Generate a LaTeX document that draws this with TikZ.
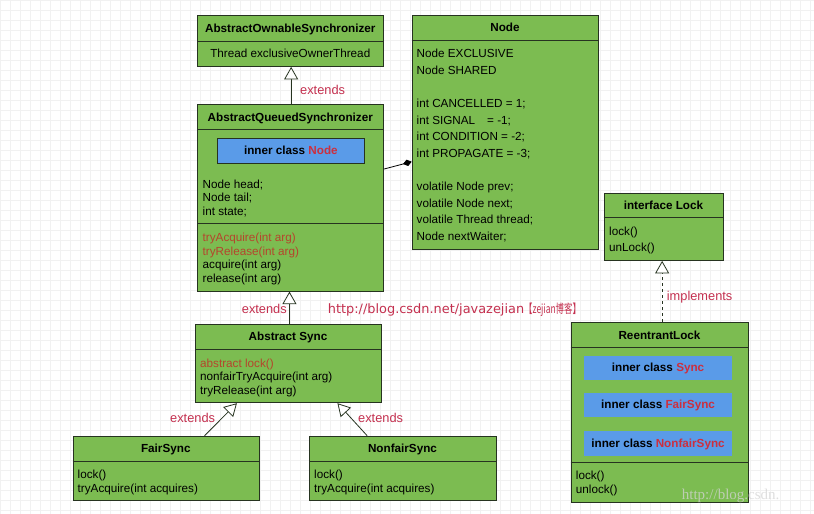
\documentclass[tikz,border=0pt]{standalone}
\usepackage{fontspec}
\setmainfont{Liberation Sans}
\newfontfamily\cjk{Noto Sans CJK SC}
\newfontfamily\urlfont{DejaVu Sans}
\newfontfamily\wmfont{Liberation Serif}
\usetikzlibrary{arrows.meta,calc}
\definecolor{boxgreen}{HTML}{7CBC51}
\definecolor{boxblue}{HTML}{5A9BE8}
\definecolor{edgedark}{HTML}{263320}
\definecolor{lblred}{HTML}{C4304F}
\definecolor{methred}{HTML}{B5452C}
\definecolor{namered}{HTML}{CC2F3F}
\definecolor{gridgray}{HTML}{F1F1F1}
\definecolor{wmgray}{HTML}{D4D4D4}
\tikzset{
  cls/.style={draw=edgedark, line width=0.9pt, fill=boxgreen, inner sep=0pt, anchor=north west},
  inner/.style={fill=boxblue, inner sep=0pt, anchor=north west},
  innerb/.style={inner, draw=edgedark, line width=0.8pt},
  txt/.style={inner sep=0pt, anchor=west, text height=8.5pt, text depth=2.5pt, font=\fontsize{11.7}{14}\selectfont},
  ttl/.style={inner sep=0pt, anchor=center, text height=8.5pt, text depth=2.5pt, font=\fontsize{11.7}{14}\selectfont\bfseries},
  lbl/.style={txt, text=lblred, font=\fontsize{12.8}{14}\selectfont},
  divider/.style={draw=edgedark, line width=0.9pt},
  ext/.style={draw=edgedark, line width=0.8pt, -{Triangle[open, length=12.5pt, width=14pt, fill=white]}},
  impl/.style={ext, dashed},
  comp/.style={draw=black, line width=0.8pt, -{Diamond[length=9pt, width=6.5pt]}}
}
\begin{document}
\begin{tikzpicture}[x=1pt, y=-1pt]
\useasboundingbox (0,0) rectangle (814,514);
\fill[white] (0,0) rectangle (814,514);
\draw[gridgray, line width=0.3pt, step=10pt] (0,0) grid (814,514);

% AbstractOwnableSynchronizer
\node[cls, minimum width=186pt, minimum height=51pt] (aos) at (197.3,15) {};
\draw[divider] (197.3,41) -- (383.3,41);
\node[ttl] (aos-t) at (290.3,29) {AbstractOwnableSynchronizer};
\node[txt, anchor=center] (aos-f) at (290.3,54.5) {Thread exclusiveOwnerThread};

% AbstractQueuedSynchronizer
\node[cls, minimum width=186pt, minimum height=186.4pt] (aqs) at (197.3,104.3) {};
\draw[divider] (197.3,129.8) -- (383.3,129.8);
\draw[divider] (197.3,223.5) -- (383.3,223.5);
\node[ttl] (aqs-t) at (290.3,118) {AbstractQueuedSynchronizer};
\node[innerb, minimum width=147.6pt, minimum height=25.6pt] (aqs-in) at (216.7,137.7) {};
\node[ttl] (aqs-in-t) at ($(aqs-in.center)+(0,0.8)$) {inner class \textcolor{namered}{Node}};
\node[txt] (aqs-f1) at (202.5,185) {Node head;};
\node[txt] (aqs-f2) at (202.5,198.5) {Node tail;};
\node[txt] (aqs-f3) at (202.5,212) {int state;};
\node[txt, text=methred] (aqs-m1) at (202.5,238.3) {tryAcquire(int arg)};
\node[txt, text=methred] (aqs-m2) at (202.5,252) {tryRelease(int arg)};
\node[txt] (aqs-m3) at (202.5,265.5) {acquire(int arg)};
\node[txt] (aqs-m4) at (202.5,279) {release(int arg)};

% Node
\node[cls, minimum width=186.6pt, minimum height=234pt] (nd) at (411.7,14.7) {};
\draw[divider] (411.7,40) -- (598.3,40);
\node[ttl] (nd-t) at (505,28.3) {Node};
\node[txt] (nd-1) at (416.5,54.2) {Node EXCLUSIVE};
\node[txt] (nd-2) at (416.5,71.2) {Node SHARED};
\node[txt] (nd-3) at (416.5,104.5) {int CANCELLED = 1;};
\node[txt] (nd-4) at (416.5,121.2) {int SIGNAL\hspace{12pt}= -1;};
\node[txt] (nd-5) at (416.5,137.9) {int CONDITION = -2;};
\node[txt] (nd-6) at (416.5,154.5) {int PROPAGATE = -3;};
\node[txt] (nd-7) at (416.5,187.5) {volatile Node prev;};
\node[txt] (nd-8) at (416.5,204.2) {volatile Node next;};
\node[txt] (nd-9) at (416.5,220.9) {volatile Thread thread;};
\node[txt] (nd-10) at (416.5,237.7) {Node nextWaiter;};

% Abstract Sync
\node[cls, minimum width=186pt, minimum height=78.3pt] (as) at (195,324) {};
\draw[divider] (195,349.5) -- (381,349.5);
\node[ttl] (as-t) at (288,337.7) {Abstract Sync};
\node[txt, text=methred] (as-1) at (200,364.3) {abstract lock()};
\node[txt] (as-2) at (200,377.8) {nonfairTryAcquire(int arg)};
\node[txt] (as-3) at (200,391.2) {tryRelease(int arg)};

% FairSync
\node[cls, minimum width=186.3pt, minimum height=64.3pt] (fs) at (72.7,435.7) {};
\draw[divider] (72.7,461.7) -- (259,461.7);
\node[ttl] (fs-t) at (165.8,449.5) {FairSync};
\node[txt] (fs-1) at (77.5,475.1) {lock()};
\node[txt] (fs-2) at (77.5,489.8) {tryAcquire(int acquires)};

% NonfairSync
\node[cls, minimum width=186.4pt, minimum height=64.3pt] (nfs) at (309.3,435.7) {};
\draw[divider] (309.3,461.7) -- (495.7,461.7);
\node[ttl] (nfs-t) at (402.5,449.5) {NonfairSync};
\node[txt] (nfs-1) at (314,475.1) {lock()};
\node[txt] (nfs-2) at (314,489.8) {tryAcquire(int acquires)};

% interface Lock
\node[cls, minimum width=119.6pt, minimum height=67.3pt] (lk) at (603.7,192.7) {};
\draw[divider] (603.7,217.9) -- (723.3,217.9);
\node[ttl] (lk-t) at (663.5,206.3) {interface Lock};
\node[txt] (lk-1) at (609,232.5) {lock()};
\node[txt] (lk-2) at (609,248) {unLock()};

% ReentrantLock
\node[cls, minimum width=177.6pt, minimum height=180pt] (rl) at (570.7,321.7) {};
\draw[divider] (570.7,347.5) -- (748.3,347.5);
\draw[divider] (570.7,462.7) -- (748.3,462.7);
\node[ttl] (rl-t) at (659.5,336) {ReentrantLock};
\node[inner, minimum width=147.7pt, minimum height=24.3pt] (rl-in1) at (584,355.7) {};
\node[inner, minimum width=147.7pt, minimum height=24.3pt] (rl-in2) at (584,392.4) {};
\node[inner, minimum width=147.7pt, minimum height=24.6pt] (rl-in3) at (584,430.7) {};
\node[ttl] (rl-in1-t) at ($(rl-in1.center)+(0,0.8)$) {inner class \textcolor{namered}{Sync}};
\node[ttl] (rl-in2-t) at ($(rl-in2.center)+(0,0.8)$) {inner class \textcolor{namered}{FairSync}};
\node[ttl] (rl-in3-t) at ($(rl-in3.center)+(0,0.8)$) {inner class \textcolor{namered}{NonfairSync}};
\node[txt] (rl-1) at (575.7,476.5) {lock()};
\node[txt] (rl-2) at (575.7,490) {unlock()};

% connectors
\coordinate (aqsTop) at ($(aqs.north)+(0.4,0)$);
\coordinate (asTop) at ($(as.north)+(1,0)$);
\coordinate (fsTop) at ($(fs.north)+(38.2,0)$);
\coordinate (nfsTop) at ($(nfs.north)+(-35.8,0)$);
\coordinate (rlTop) at ($(rl.north)+(2.2,0)$);
\coordinate (aqsRight) at ($(aqs.north east)+(0,64.7)$);
\coordinate (ndLeft) at ($(nd.north west)+(0,147)$);
\draw[ext] (aqsTop) -- (aqsTop |- aos.south);
\draw[ext] (asTop) -- (asTop |- aqs.south);
\draw[ext] (fsTop) -- ($(as.south)+(-51.5,0)$);
\draw[ext] (nfsTop) -- ($(as.south)+(49,0)$);
\draw[impl] (rlTop) -- (rlTop |- lk.south);
\draw[comp] (aqsRight) -- (ndLeft);

% labels
\node[lbl] (l-ext1) at (300,91) {extends};
\node[lbl] (l-ext2) at (241.7,310.5) {extends};
\node[lbl] (l-ext3) at (170,419) {extends};
\node[lbl] (l-ext4) at (358,419) {extends};
\node[lbl] (l-impl) at (666.7,297) {implements};
\node[lbl] (url) at (327.7,310.5) {{\urlfont\fontsize{12.9}{14}\selectfont http://blog.csdn.net/javazejian}\scalebox{0.68}[1]{\cjk\fontsize{12.4}{14}\selectfont 【zejian博客】}};

% watermark
\node[inner sep=0pt, anchor=west, text=wmgray, opacity=0.75, font=\wmfont\fontsize{15}{16}\selectfont] (wm) at (681.7,496) {http://blog.csdn.};
\end{tikzpicture}
\end{document}
